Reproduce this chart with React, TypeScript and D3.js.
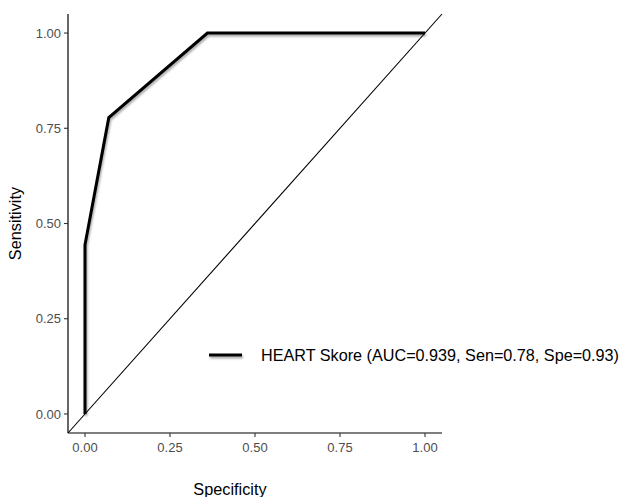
import * as d3 from "d3";

const fpr = [0, 0, 0.07, 0.36, 1.0];
const tpr = [0, 0.444, 0.778, 1.0, 1.0];
const xTicks = [0, 0.25, 0.5, 0.75, 1.0];
const yTicks = [0, 0.25, 0.5, 0.75, 1.0];
const legendLabel = "HEART Skore (AUC=0.939, Sen=0.78, Spe=0.93)";

const W = 620;
const H = 497;
const FONT = "'Liberation Sans', Arial, Helvetica, sans-serif";

export default function App() {
  const x = d3.scaleLinear().domain([-0.05, 1.05]).range([68, 442]);
  const y = d3.scaleLinear().domain([-0.05, 1.05]).range([433, 14]);

  const pts = fpr.map((f, i) => [f, tpr[i]] as [number, number]);
  const line = d3
    .line<[number, number]>()
    .x((d) => x(d[0]))
    .y((d) => y(d[1]));

  const [d0, d1] = x.domain();

  return (
    <svg width={W} height={H} style={{ position: "absolute", left: 0, top: 0, background: "#fff" }}>
      <defs>
        <filter id="shadow" filterUnits="userSpaceOnUse" x={0} y={0} width={W} height={H}>
          <feDropShadow dx="1" dy="2" stdDeviation="1" floodColor="#000" floodOpacity="0.35" />
        </filter>
      </defs>

      {/* diagonal reference */}
      <line
        x1={x(d0)}
        y1={y(d0)}
        x2={x(d1)}
        y2={y(d1)}
        stroke="#000"
        strokeWidth={1.1}
      />

      {/* ROC curve */}
      <path
        d={line(pts) ?? ""}
        fill="none"
        stroke="#000"
        strokeWidth={3}
        strokeLinejoin="miter"
        filter="url(#shadow)"
      />

      {/* axes */}
      <line x1={x(d0)} x2={x(d0)} y1={y(d0)} y2={y(d1)} stroke="#000" strokeWidth={1.2} />
      <line x1={x(d0)} x2={x(d1)} y1={y(d0)} y2={y(d0)} stroke="#000" strokeWidth={1.2} />

      {yTicks.map((t) => (
        <g key={"y" + t}>
          <line x1={x(d0) - 4} x2={x(d0)} y1={y(t)} y2={y(t)} stroke="#333" strokeWidth={1.1} />
          <text
            x={x(d0) - 7}
            y={y(t)}
            dy="0.35em"
            textAnchor="end"
            fontFamily={FONT}
            fontSize={13}
            fill="#4d4d4d"
          >
            {t.toFixed(2)}
          </text>
        </g>
      ))}

      {xTicks.map((t) => (
        <g key={"x" + t}>
          <line x1={x(t)} x2={x(t)} y1={y(d0)} y2={y(d0) + 4} stroke="#333" strokeWidth={1.1} />
          <text
            x={x(t)}
            y={y(d0) + 19}
            textAnchor="middle"
            fontFamily={FONT}
            fontSize={13}
            fill="#4d4d4d"
          >
            {t.toFixed(2)}
          </text>
        </g>
      ))}

      <text
        transform={`translate(21,${(y(d0) + y(d1)) / 2}) rotate(-90)`}
        textAnchor="middle"
        fontFamily={FONT}
        fontSize={16.3}
        fill="#000"
      >
        Sensitivity
      </text>
      <text
        x={230}
        y={495}
        textAnchor="middle"
        fontFamily={FONT}
        fontSize={16.3}
        fill="#000"
      >
        Specificity
      </text>

      {/* legend */}
      <line
        x1={209}
        x2={242}
        y1={355}
        y2={355}
        stroke="#000"
        strokeWidth={3}
        filter="url(#shadow)"
      />
      <text x={261} y={361} fontFamily={FONT} fontSize={16.2} fill="#000">
        {legendLabel}
      </text>
    </svg>
  );
}
